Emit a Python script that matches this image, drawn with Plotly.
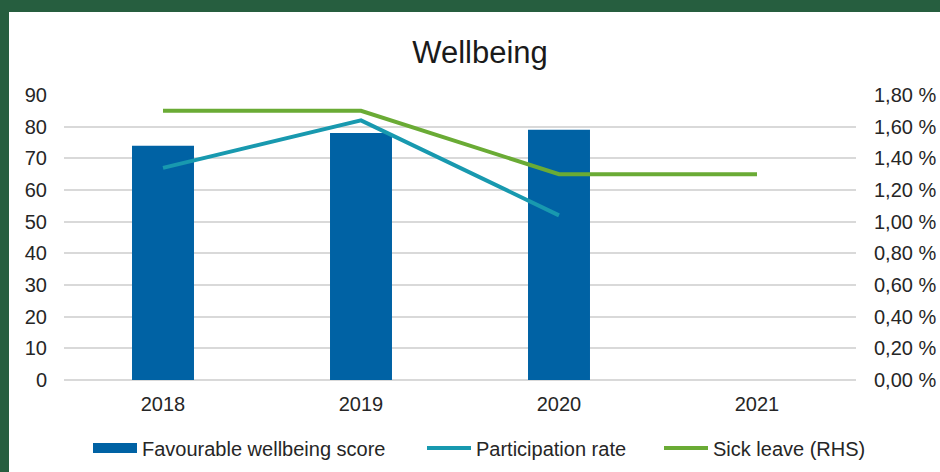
import plotly.graph_objects as go

years = ["2018", "2019", "2020", "2021"]
wellbeing_score = [74, 78, 79, None]
participation_rate = [67, 82, 52, None]
sick_leave_pct = [1.70, 1.70, 1.30, 1.30]

W, H = 940, 472
L, R, T, B = 64, 84, 95, 92
pw, ph = W - L - R, H - T - B

def px_x(x):
    return (x - L) / pw

def px_y(y):
    return (H - B - y) / ph

FONT = "Liberation Sans, Arial, sans-serif"
TXT = "#262626"
GRID = "#D9D9D9"
BLUE = "#0062A4"
TEAL = "#1899AF"
GREEN = "#6AAB35"

fig = go.Figure()
fig.add_trace(go.Bar(
    x=years, y=wellbeing_score, name="Favourable wellbeing score",
    marker=dict(color=BLUE, line=dict(width=0)), width=0.313, showlegend=False,
))
# legend key for the bars (wide flat swatch, as in the original)
fig.add_trace(go.Scatter(
    x=[None], y=[None], name="Favourable wellbeing score", mode="lines",
    line=dict(color=BLUE, width=11), legend="legend",
))
fig.add_trace(go.Scatter(
    x=years, y=participation_rate, name="Participation rate", mode="lines",
    line=dict(color=TEAL, width=4), legend="legend2",
))
fig.add_trace(go.Scatter(
    x=years, y=sick_leave_pct, name="Sick leave (RHS)", mode="lines", yaxis="y2",
    line=dict(color=GREEN, width=4), legend="legend3",
))

def leg(xpx):
    return dict(orientation="h", x=xpx / W, xref="container", xanchor="left",
                y=1 - 448 / H, yref="container", yanchor="middle",
                bgcolor="rgba(0,0,0,0)",
                font=dict(size=20, color=TXT, family=FONT), itemwidth=44)

fig.update_layout(
    width=W, height=H,
    margin=dict(l=L, r=R, t=T, b=B, pad=0, autoexpand=False),
    paper_bgcolor="#265E3F",
    plot_bgcolor="white",
    separators=", ",
    font=dict(family=FONT, size=20, color=TXT),
    title=dict(text="Wellbeing", x=480 / W, xanchor="center",
               y=1 - 52 / H, yanchor="middle", yref="container",
               font=dict(size=31, color="#1a1a1a", family=FONT)),
    showlegend=True,
    legend=leg(88),
    legend2=leg(422),
    legend3=leg(659),
    xaxis=dict(type="category", showgrid=False, showline=False,
               ticks="", ticklabelstandoff=10, zeroline=False),
    yaxis=dict(range=[0, 90], dtick=10, showgrid=True, gridcolor=GRID,
               gridwidth=1.5, zeroline=True, zerolinecolor=GRID, zerolinewidth=1.5,
               showline=False, ticks="", ticklabelstandoff=16),
    yaxis2=dict(range=[0, 1.8], dtick=0.2, overlaying="y", side="right",
                showgrid=False, zeroline=False, showline=False, ticks="",
                tickformat=".2f", ticksuffix=" %", ticklabelstandoff=17),
    shapes=[dict(type="rect", xref="paper", yref="paper",
                 x0=px_x(9), x1=px_x(960), y0=px_y(500), y1=px_y(12),
                 fillcolor="white", line=dict(width=0), layer="below")],
)

fig.write_html("out.html", config={"displayModeBar": False},
               post_script="document.body.style.margin='0';document.body.style.overflow='hidden';")
